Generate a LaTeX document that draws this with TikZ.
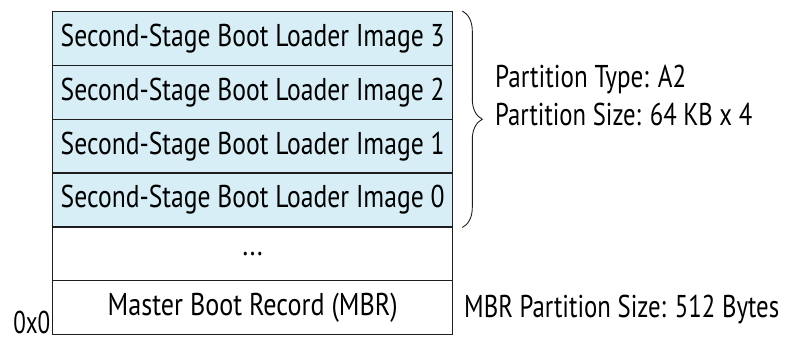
\documentclass[tikz,border=0pt]{standalone}
\usepackage{graphicx}
\usepackage{fontspec}
\setmainfont{PT Sans}
\usetikzlibrary{decorations.pathreplacing}
\definecolor{rowblue}{RGB}{215,238,246}
\definecolor{edge}{RGB}{30,30,30}
\newlength\fitlen
\newcommand\fitx[2]{\settowidth{\fitlen}{#2}\pgfmathsetmacro\fitf{#1/\fitlen}\scalebox{\fitf}[1]{#2}}
\tikzset{
  x=1pt, y=-1pt,
  txtfont/.style={font=\fontsize{31.5}{36}\selectfont},
  cell/.style={draw=edge, line width=1.3pt, minimum width=400pt, minimum height=53.8pt, inner sep=0pt, anchor=north west, txtfont},
  bluecell/.style={cell, fill=rowblue},
  lbl/.style={inner sep=0pt, anchor=base west, txtfont},
}
\begin{document}
\begin{tikzpicture}
\useasboundingbox (0,0) rectangle (786,341);
\node[bluecell] (img3) at (52,11) {\fitx{384pt}{Second-Stage Boot Loader Image 3}};
\node[bluecell] (img2) at (52,64.8) {\fitx{384pt}{Second-Stage Boot Loader Image 2}};
\node[bluecell] (img1) at (52,118.6) {\fitx{384pt}{Second-Stage Boot Loader Image 1}};
\node[bluecell] (img0) at (52,172.4) {\fitx{384pt}{Second-Stage Boot Loader Image 0}};
\node[cell] (dots) at (52,226.2) {\fitx{20pt}{...}};
\node[cell] (mbr) at (52,280) {\fitx{290pt}{Master Boot Record (MBR)}};
\draw[edge, line width=0.9pt, decorate, decoration={brace, amplitude=20pt}]
  ([xshift=9pt]img3.north east) -- ([xshift=9pt]img0.south east);
\node[lbl] (ptype) at (495,87) {\fitx{191pt}{Partition Type: A2}};
\node[lbl] (psize) at (495,125) {\fitx{257pt}{Partition Size: 64 KB x 4}};
\node[lbl] (mbrsize) at (464,317) {\fitx{315pt}{MBR Partition Size: 512 Bytes}};
\node[lbl, anchor=base east] (addr) at (50.5,333) {\fitx{37pt}{0x0}};
\end{tikzpicture}
\end{document}
